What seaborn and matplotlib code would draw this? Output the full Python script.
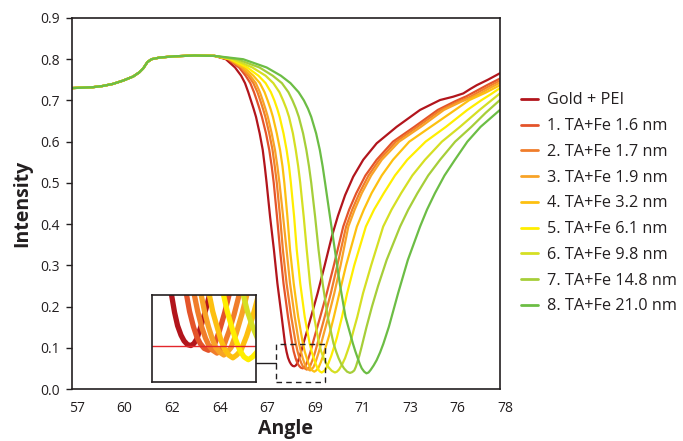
import pandas as pd
import seaborn as sns
import matplotlib.pyplot as plt
from matplotlib.lines import Line2D
from matplotlib.patches import Rectangle
from matplotlib.transforms import ScaledTranslation

# shared part of all curves (they overlap up to ~64 deg)
plateau_angle = [57.0, 58.0, 58.5, 59.0, 59.5, 60.0, 60.3, 60.5, 60.7, 60.9, 61.3, 62.0, 63.0, 64.0]
plateau_int = [0.730, 0.732, 0.735, 0.740, 0.748, 0.758, 0.768, 0.778, 0.793, 0.800, 0.804, 0.807, 0.809, 0.808]

# falling edge: angle where each curve crosses these intensity levels
drop_levels = [0.800, 0.780, 0.760, 0.742, 0.720, 0.700, 0.680, 0.660, 0.620, 0.580, 0.540, 0.500,
               0.418, 0.337, 0.256, 0.175, 0.111]
pei_drop = [64.55, 65.0, 65.3, 65.49, 65.65, 65.78, 65.91, 66.03, 66.21, 66.36, 66.46, 66.55, 66.72, 66.91, 67.08, 67.29, 67.45]
l1_drop = [64.65, 65.2, 65.52, 65.75, 65.93, 66.07, 66.2, 66.32, 66.52, 66.68, 66.8, 66.9, 67.06, 67.21, 67.38, 67.60, 67.80]
l2_drop = [64.7, 65.3, 65.65, 65.9, 66.1, 66.24, 66.37, 66.49, 66.68, 66.84, 66.95, 67.05, 67.21, 67.35, 67.53, 67.76, 67.98]
l3_drop = [64.72, 65.35, 65.74, 66.02, 66.22, 66.36, 66.49, 66.61, 66.80, 66.96, 67.08, 67.18, 67.36, 67.53, 67.70, 67.93, 68.14]
l4_drop = [64.75, 65.45, 65.9, 66.22, 66.45, 66.6, 66.74, 66.86, 67.05, 67.21, 67.33, 67.42, 67.57, 67.70, 67.88, 68.10, 68.33]
l5_drop = [64.8, 65.6, 66.15, 66.5, 66.76, 66.93, 67.07, 67.19, 67.38, 67.53, 67.65, 67.74, 67.90, 68.03, 68.20, 68.42, 68.66]
l6_drop = [64.9, 65.85, 66.5, 66.88, 67.18, 67.36, 67.52, 67.65, 67.84, 67.98, 68.10, 68.20, 68.37, 68.52, 68.68, 68.88, 69.12]
l7_drop = [65.1, 66.2, 66.85, 67.3, 67.62, 67.82, 67.99, 68.13, 68.34, 68.50, 68.63, 68.74, 68.93, 69.10, 69.30, 69.55, 69.83]
l8_drop = [65.4, 66.55, 67.25, 67.72, 68.12, 68.38, 68.58, 68.74, 68.98, 69.16, 69.30, 69.42, 69.66, 69.90, 70.14, 70.42, 70.78]

# minimum and rising edge of each curve
pei_angle = [67.53, 67.6, 67.68, 67.75, 67.83, 67.91, 67.98, 68.05, 68.15, 68.27, 68.38, 68.5, 68.73, 69.05, 69.4,
             69.75, 70.05, 70.4, 70.8, 71.29, 71.95, 72.93, 74.08, 75.06, 75.7, 76.2, 76.55, 76.86, 77.4, 78.0]
pei_int = [0.090, 0.076, 0.066, 0.060, 0.056, 0.055, 0.057, 0.062, 0.076, 0.095, 0.115, 0.135, 0.175, 0.232, 0.300,
           0.370, 0.420, 0.470, 0.515, 0.556, 0.596, 0.636, 0.677, 0.701, 0.709, 0.717, 0.728, 0.737, 0.750, 0.766]

l1_angle = [67.88, 67.97, 68.05, 68.13, 68.22, 68.32, 68.40, 68.47, 68.58, 68.70, 68.82, 68.95, 69.18, 69.50,
            69.85, 70.31, 70.6, 70.95, 71.4, 71.95, 72.75, 73.80, 74.95, 75.8, 76.35, 76.8, 77.4, 78.0]
l1_int = [0.091, 0.075, 0.064, 0.057, 0.052, 0.050, 0.052, 0.057, 0.071, 0.090, 0.112, 0.135, 0.175, 0.232,
          0.300, 0.394, 0.435, 0.475, 0.518, 0.556, 0.600, 0.636, 0.677, 0.698, 0.710, 0.722, 0.738, 0.753]

l2_angle = [68.07, 68.16, 68.25, 68.33, 68.42, 68.52, 68.60, 68.68, 68.80, 68.92, 69.05, 69.18, 69.40, 69.70,
            70.02, 70.45, 70.75, 71.10, 71.55, 72.08, 72.90, 73.95, 75.10, 75.95, 76.5, 76.9, 77.45, 78.0]
l2_int = [0.091, 0.075, 0.063, 0.055, 0.050, 0.047, 0.050, 0.055, 0.070, 0.088, 0.111, 0.135, 0.175, 0.232,
          0.300, 0.394, 0.435, 0.475, 0.518, 0.556, 0.600, 0.636, 0.677, 0.697, 0.708, 0.719, 0.734, 0.748]

l3_angle = [68.23, 68.32, 68.41, 68.49, 68.58, 68.68, 68.76, 68.85, 68.97, 69.10, 69.23, 69.36, 69.58, 69.87,
            70.18, 70.56, 70.87, 71.22, 71.68, 72.20, 73.05, 74.12, 75.25, 76.1, 76.6, 77.0, 77.5, 78.0]
l3_int = [0.091, 0.075, 0.062, 0.053, 0.048, 0.045, 0.048, 0.053, 0.068, 0.088, 0.111, 0.135, 0.175, 0.232,
          0.300, 0.394, 0.435, 0.475, 0.518, 0.556, 0.600, 0.636, 0.677, 0.697, 0.707, 0.716, 0.730, 0.743]

l4_angle = [68.42, 68.52, 68.61, 68.70, 68.79, 68.89, 68.98, 69.08, 69.21, 69.35, 69.48, 69.62, 69.85, 70.12,
            70.45, 70.98, 71.32, 71.70, 72.20, 72.75, 73.55, 74.60, 75.80, 76.5, 76.9, 77.3, 77.65, 78.0]
l4_int = [0.091, 0.075, 0.061, 0.051, 0.045, 0.042, 0.045, 0.050, 0.065, 0.085, 0.107, 0.130, 0.175, 0.232,
          0.300, 0.394, 0.435, 0.475, 0.518, 0.556, 0.600, 0.636, 0.677, 0.701, 0.710, 0.719, 0.728, 0.737]

l5_angle = [68.76, 68.86, 68.95, 69.05, 69.15, 69.25, 69.35, 69.45, 69.58, 69.72, 69.86, 70.0, 70.25, 70.50,
            70.85, 71.42, 71.82, 72.30, 72.85, 73.45, 74.35, 75.35, 76.40, 77.1, 77.55, 78.0]
l5_int = [0.091, 0.075, 0.062, 0.050, 0.043, 0.040, 0.043, 0.048, 0.062, 0.080, 0.102, 0.125, 0.175, 0.232,
          0.300, 0.394, 0.435, 0.475, 0.518, 0.556, 0.600, 0.636, 0.677, 0.701, 0.715, 0.730]

l6_angle = [69.23, 69.35, 69.47, 69.60, 69.75, 69.90, 70.0, 70.10, 70.25, 70.40, 70.52, 70.65, 70.82, 71.00,
            71.28, 71.68, 72.27, 72.68, 73.15, 73.70, 74.32, 75.15, 76.04, 77.0, 78.0]
l6_int = [0.091, 0.075, 0.062, 0.052, 0.044, 0.040, 0.042, 0.047, 0.059, 0.075, 0.092, 0.111, 0.143, 0.175,
          0.232, 0.300, 0.394, 0.435, 0.475, 0.518, 0.556, 0.600, 0.636, 0.677, 0.717]

l7_angle = [69.96, 70.08, 70.21, 70.35, 70.50, 70.64, 70.75, 70.85, 70.93, 71.0, 71.1, 71.2, 71.45, 71.72,
            72.02, 72.44, 73.10, 73.50, 73.95, 74.48, 75.06, 75.8, 76.6, 77.3, 78.0]
l7_int = [0.091, 0.075, 0.061, 0.050, 0.042, 0.039, 0.041, 0.045, 0.054, 0.065, 0.081, 0.100, 0.150, 0.200,
          0.250, 0.313, 0.394, 0.435, 0.475, 0.518, 0.556, 0.600, 0.636, 0.670, 0.701]

l8_angle = [70.90, 71.02, 71.12, 71.22, 71.34, 71.45, 71.55, 71.65, 71.80, 71.95, 72.12, 72.28, 72.55, 73.0,
            73.48, 74.08, 74.42, 74.81, 75.28, 75.79, 76.4, 77.05, 78.0]
l8_int = [0.092, 0.075, 0.061, 0.050, 0.042, 0.038, 0.040, 0.046, 0.057, 0.070, 0.089, 0.110, 0.151, 0.232,
          0.313, 0.394, 0.435, 0.475, 0.518, 0.556, 0.600, 0.636, 0.677]

labels = ["Gold + PEI", "1. TA+Fe 1.6 nm", "2. TA+Fe 1.7 nm", "3. TA+Fe 1.9 nm", "4. TA+Fe 3.2 nm",
          "5. TA+Fe 6.1 nm", "6. TA+Fe 9.8 nm", "7. TA+Fe 14.8 nm", "8. TA+Fe 21.0 nm"]
colors = ["#B2151C", "#E4542A", "#F07D2B", "#F8A327", "#FDC010", "#FFEE00", "#D5DF23", "#A6CE39", "#6CBD45"]
xtick_labels = ["57", "60", "62", "64", "67", "69", "71", "73", "76", "78"]

drop_lists = [pei_drop, l1_drop, l2_drop, l3_drop, l4_drop, l5_drop, l6_drop, l7_drop, l8_drop]
angle_lists = [pei_angle, l1_angle, l2_angle, l3_angle, l4_angle, l5_angle, l6_angle, l7_angle, l8_angle]
int_lists = [pei_int, l1_int, l2_int, l3_int, l4_int, l5_int, l6_int, l7_int, l8_int]

rows = []
for lab, drop, angs, vals in zip(labels, drop_lists, angle_lists, int_lists):
    xs = plateau_angle + drop + angs
    ys = plateau_int + drop_levels + vals
    for a, v in zip(xs, ys):
        rows.append((a, v, lab))
df = pd.DataFrame(rows, columns=["Angle", "Intensity", "Layer"])

sns.set_theme(style="white")
plt.rcParams['font.family'] = ['Open Sans', 'DejaVu Sans']
ink = "#231F20"

fig = plt.figure(figsize=(6.83, 4.41), dpi=100)
ax = fig.add_axes([0.1054, 0.1179, 0.6266, 0.8413])

sns.lineplot(data=df, x="Angle", y="Intensity", hue="Layer", hue_order=labels, palette=colors,
             lw=1.6, estimator=None, sort=False, legend=False, ax=ax)

ax.set_xlim(57, 78)
ax.set_ylim(0, 0.9)
xt = [57 + i * 21 / 9 for i in range(10)]
ax.set_xticks(xt)
ax.set_xticklabels(xtick_labels)
ax.set_yticks([i / 10 for i in range(10)])
ax.set_yticklabels([f"{i / 10:.1f}" for i in range(10)])
ax.tick_params(axis="x", length=0, pad=8.5, labelsize=10, colors=ink)
ax.tick_params(axis="y", left=True, length=4.5, width=1, pad=4, labelsize=10, colors=ink)
for lbl in ax.get_xticklabels():
    lbl.set_transform(lbl.get_transform() + ScaledTranslation(0.05, 0, fig.dpi_scale_trans))
for s in ax.spines.values():
    s.set_color(ink)
    s.set_linewidth(1.2)
ax.set_xlabel("Angle", fontsize=14, fontweight="bold", color=ink, labelpad=2)
ax.set_ylabel("Intensity", fontsize=14, fontweight="bold", color=ink, labelpad=6)

# zoomed inset of the minima
box_x0, box_x1, box_y0, box_y1 = 67.01, 69.43, 0.016, 0.108
axins = ax.inset_axes([60.94, 0.016, 5.09, 0.211], transform=ax.transData)
sns.lineplot(data=df, x="Angle", y="Intensity", hue="Layer", hue_order=labels, palette=colors,
             lw=3.8, estimator=None, sort=False, legend=False, ax=axins)
axins.axhline(min(pei_int), color="#E3262B", lw=1)
axins.set_xlim(box_x0, box_x1)
axins.set_ylim(box_y0, box_y1)
axins.set(xticks=[], yticks=[], xlabel="", ylabel="")
for s in axins.spines.values():
    s.set_color(ink)
    s.set_linewidth(1.2)

ax.add_patch(Rectangle((box_x0, box_y0), box_x1 - box_x0, box_y1 - box_y0, fill=False,
                       ls=(0, (4, 3)), lw=1, ec=ink, zorder=5))
ax.plot([66.03, box_x0], [0.062, 0.062], color=ink, lw=1)

handles = [Line2D([], [], color=c, lw=2) for c in colors]
ax.legend(handles, labels, loc="center left", bbox_to_anchor=(1.014, 0.5), frameon=False,
          fontsize=11.7, handlelength=1.1, handletextpad=0.55, labelspacing=0.6, labelcolor=ink)

fig.savefig("out.png", dpi=100)
